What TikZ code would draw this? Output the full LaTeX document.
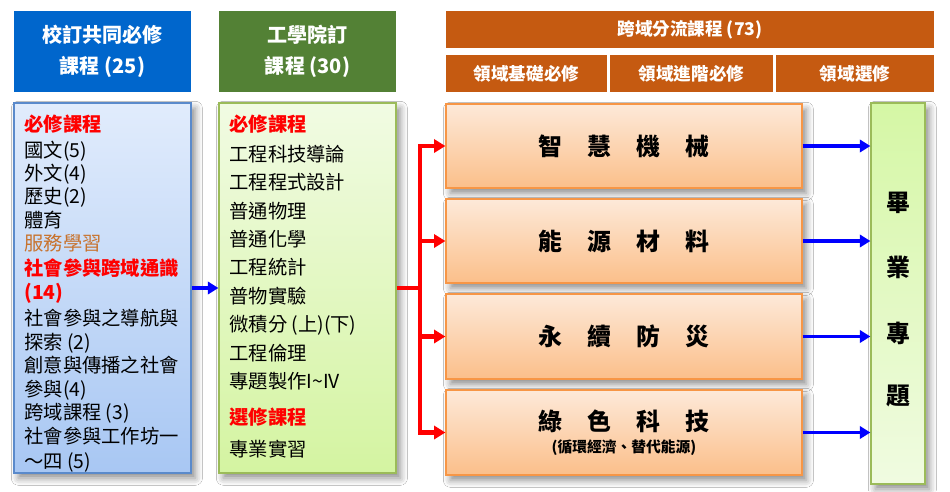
\documentclass[tikz,border=0pt]{standalone}
\usepackage{fontspec}
\setmainfont{Noto Sans CJK TC}
\usetikzlibrary{arrows.meta,shadows.blur}

\definecolor{hblue}{HTML}{0066CC}
\definecolor{hgreen}{HTML}{538135}
\definecolor{horange}{HTML}{C55A11}
\definecolor{ablueT}{HTML}{E1ECFC}
\definecolor{ablueB}{HTML}{A8C7F3}
\definecolor{ablueD}{HTML}{5A8ACB}
\definecolor{bgreenT}{HTML}{F1FBE3}
\definecolor{bgreenB}{HTML}{D4F4A1}
\definecolor{bgreenD}{HTML}{9BBB59}
\definecolor{orT}{HTML}{FDE9D9}
\definecolor{orB}{HTML}{FBBF8A}
\definecolor{orD}{HTML}{F79646}
\definecolor{svc}{HTML}{C8732E}
\definecolor{gradT}{HTML}{D5F7A5}
\definecolor{gradB}{HTML}{F0FBE1}
\definecolor{linkblue}{HTML}{0000FF}
\definecolor{linkred}{HTML}{FF0000}

\begin{document}
\begin{tikzpicture}[
  x=0.02cm, y=-0.02cm,
  header/.style={rectangle, inner sep=0pt, text=white, align=center,
    font=\bfseries\fontsize{11.4}{17.6}\selectfont},
  subhead/.style={rectangle, inner sep=0pt, text=white, fill=horange,
    minimum height=0.74cm, font=\bfseries\fontsize{10}{12}\selectfont},
  panel/.style={rectangle, inner sep=0pt, line width=0.7pt,
    blur shadow={shadow xshift=2.5pt, shadow yshift=-3pt,
      shadow blur radius=4pt, shadow opacity=45}},
  track/.style={panel, draw=orD, top color=orT, bottom color=orB,
    minimum width=7.12cm},
  item/.style={anchor=west, inner sep=0pt, text height=9.6pt, text depth=1.4pt,
    font=\fontsize{11}{13}\selectfont},
  redhead/.style={item, text=linkred, font=\bfseries\fontsize{11}{13}\selectfont},
  svchead/.style={item, text=svc},
  bigtext/.style={inner sep=0pt, font=\bfseries\fontsize{13.6}{16}\selectfont},
  bluearrow/.style={draw=linkblue, line width=2pt,
    -{Triangle[length=6pt,width=7pt]}},
  redline/.style={draw=linkred, line width=2.6pt},
  redarrow/.style={redline, line join=miter,
    -{Triangle[length=6.5pt,width=7.5pt]}}
]
\path[fill=white, use as bounding box] (0,0) rectangle (950,491);

% column headers
\node[header, fill=hblue, minimum width=3.54cm, minimum height=1.62cm]
  (hA) at (102.5,51.5) {校訂共同必修\\課程 (25)};
\node[header, fill=hgreen, minimum width=3.54cm, minimum height=1.62cm]
  (hB) at (307.5,51.5) {工學院訂\\課程 (30)};
\node[subhead, minimum width=9.76cm] (hC) at (690,29.5) {跨域分流課程 (73)};
\node[subhead, minimum width=3.22cm] (hC1) at (526.5,73.5) {領域基礎必修};
\node[subhead, minimum width=3.26cm] (hC2) at (691.5,73.5) {領域進階必修};
\node[subhead, minimum width=3.16cm] (hC3) at (855,73.5) {領域選修};

% course panels
\node[panel, draw=ablueD, top color=ablueT, bottom color=ablueB,
  minimum width=3.54cm, minimum height=7.4cm] (boxA) at (102.5,288) {};
\node[panel, draw=bgreenD, top color=bgreenT, bottom color=bgreenB,
  minimum width=3.54cm, minimum height=7.4cm] (boxB) at (307.5,288) {};
\node[track, minimum height=1.68cm] (t1) at (624,146) {};
\node[track, minimum height=1.68cm] (t2) at (624,241) {};
\node[track, minimum height=1.70cm] (t3) at (624,336.5) {};
\node[track, minimum height=1.70cm] (t4) at (624,432.5) {};
\node[panel, draw=bgreenD, top color=gradT, bottom color=gradB,
  minimum width=1.08cm, minimum height=7.62cm] (grad) at (898,293.5) {};

% common required courses
\foreach \ly/\lt/\ls [count=\i] in {
  124/必修課程/redhead, 150/國文(5)/item, 173/外文(4)/item,
  196/歷史(2)/item, 220/體育/item, 243/服務學習/svchead,
  268/社會參與跨域通識/redhead, 292/(14)/redhead,
  318/社會參與之導航與/item, 342/探索 (2)/item,
  365/創意與傳播之社會/item, 389/參與(4)/item,
  412/跨域課程 (3)/item, 436/社會參與工作坊一/item, 461/～四 (5)/item}
  \node[\ls] (L\i) at (24,\ly) {\lt};

% college courses
\foreach \ly/\lt/\ls [count=\i] in {
  124/必修課程/redhead, 154/工程科技導論/item, 182/工程程式設計/item,
  211/普通物理/item, 239/普通化學/item, 267/工程統計/item,
  296/普物實驗/item, 324/微積分 (上)(下)/item, 353/工程倫理/item,
  381/專題製作I\textasciitilde IV/item, 417/選修課程/redhead,
  449/專業實習/item}
  \node[\ls] (M\i) at (229,\ly) {\lt};

% track titles
\node[bigtext] (n1) at (t1) {智\hspace{1.05em}慧\hspace{1.05em}機\hspace{1.05em}械};
\node[bigtext] (n2) at (t2) {能\hspace{1.05em}源\hspace{1.05em}材\hspace{1.05em}料};
\node[bigtext] (n3) at (t3) {永\hspace{1.05em}續\hspace{1.05em}防\hspace{1.05em}災};
\node[bigtext] (n4) at (624,421) {綠\hspace{1.05em}色\hspace{1.05em}科\hspace{1.05em}技};
\node[inner sep=0pt, font=\bfseries\fontsize{8.4}{10}\selectfont]
  (n4s) at (624,448) {(循環經濟、替代能源)};

% capstone column
\foreach \gy/\gt [count=\i] in {203/畢, 267/業, 333/專, 396/題}
  \node[bigtext] (g\i) at (898,\gy) {\gt};

% connectors
\draw[bluearrow] (boxA.east) -- (boxB.west);
\coordinate (split) at (420,288);
\draw[redline] (boxB.east) -- (split);
\foreach \k in {1,...,4}
  \draw[redarrow] (split) |- (t\k.west);
\foreach \k in {1,...,4}
  \draw[bluearrow] (t\k.east) -- (t\k.east -| grad.west);
\end{tikzpicture}
\end{document}
